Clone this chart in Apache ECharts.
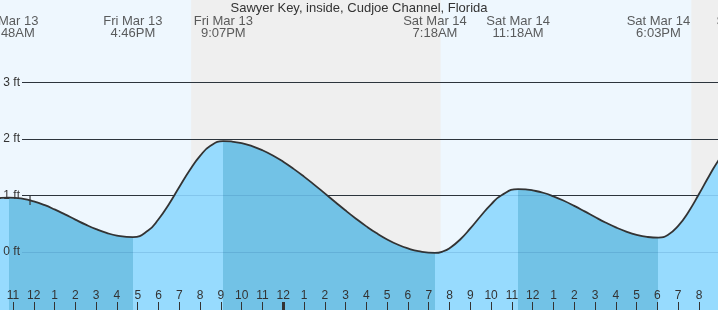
<!DOCTYPE html>
<html><head><meta charset="utf-8">
<script src="https://cdn.jsdelivr.net/npm/echarts@6/dist/echarts.min.js"></script>
<style>html,body{margin:0;padding:0;background:#eef7fe}#c{width:718px;height:310px}</style>
</head><body><div id="c"></div>
<script>
// ---------- DATA (hours counted from Fri Mar 13 00:00, heights in ft) ----------
const chartTitle = 'Sawyer Key, inside, Cudjoe Channel, Florida';
const tideHours = [10, 10.4, 10.8, 11.5, 12, 12.5, 13, 13.5, 14, 14.5, 15, 15.5, 16, 16.767,
  17.5, 18, 18.5, 19, 19.5, 20, 20.5, 21.117, 21.5, 22, 22.5, 23, 23.5, 24, 24.5, 25, 25.5, 26, 26.5,
  27, 27.5, 28, 28.5, 29, 29.5, 30, 30.5, 31.3, 31.75, 32, 32.5, 33, 33.5, 34, 34.5, 35.3, 35.75,
  36, 36.5, 37, 37.5, 38, 38.5, 39, 39.5, 40, 40.5, 41, 41.5, 42.05, 42.5, 43, 43.5, 44, 44.5, 45, 45.5, 46.37];
const tideFeet  = [0.93, 0.952, 0.96, 0.937, 0.892, 0.829, 0.75, 0.662, 0.57, 0.481, 0.401, 0.335, 0.288, 0.26,
  0.376, 0.575, 0.843, 1.146, 1.443, 1.698, 1.877, 1.96, 1.953, 1.924, 1.871, 1.798, 1.705, 1.594, 1.468, 1.331, 1.185, 1.034, 0.881,
  0.73, 0.586, 0.45, 0.327, 0.219, 0.129, 0.059, 0.01, -0.02, 0.015, 0.063, 0.213, 0.413, 0.633, 0.84, 1.002, 1.11, 1.101,
  1.087, 1.045, 0.982, 0.904, 0.813, 0.715, 0.615, 0.519, 0.431, 0.357, 0.3, 0.264, 0.25, 0.298, 0.459, 0.71, 1.022, 1.351, 1.654, 1.893, 2.07];
const eventHours = [10.8, 16.767, 21.117, 31.3, 35.3, 42.05, 46.37];
const eventFeet  = [0.96, 0.26, 1.96, -0.02, 1.11, 0.25, 2.07];
const eventDays  = ['Fri Mar 13', 'Fri Mar 13', 'Fri Mar 13', 'Sat Mar 14', 'Sat Mar 14', 'Sat Mar 14', 'Sat Mar 14'];
const eventTimes = ['10:48AM', '4:46PM', '9:07PM', '7:18AM', '11:18AM', '6:03PM', '10:22PM'];
const sunsetHours  = [19.57, 43.63];
const sunriseHours = [31.57, 55.55];
const midnightHours = [24];
const nowHour = [11.82];
const nowFeet = [0.91];
const feetAxisMin = -1, feetAxisMax = 4;

// ---------- STYLE / LAYOUT ----------
const W = 718, H = 310;
const FONT = '"Liberation Sans", Arial, sans-serif';
const DAY_BG = '#eef7fe', NIGHT_BG = '#efefef';
const RISE = '#97dbfe', FALL = '#72c2e6';
const INK = '#333333';
const PX_PER_HOUR = 20.788, HOUR_MIN = 10, HOUR_MAX = 45, HOUR_MIN_PX = -7.8;
const PX_PER_FT = 56.5, ZERO_FT_PX = 251.8;
const LABEL_ROW_FT = 3.98;

const gridLeft = HOUR_MIN_PX;
const gridRight = W - (HOUR_MIN_PX + (HOUR_MAX - HOUR_MIN) * PX_PER_HOUR);
const yMin0 = -(H - ZERO_FT_PX) / PX_PER_FT;
const yMax0 = ZERO_FT_PX / PX_PER_FT;
const g1Top = ZERO_FT_PX - feetAxisMax * PX_PER_FT;
const g1Bottom = H - (ZERO_FT_PX - feetAxisMin * PX_PER_FT);

const tide = tideHours.map((h, i) => [h, tideFeet[i]]);

// rising (light) / falling (dark) pieces from high/low events
const isHigh = eventFeet.map((v, i) => i > 0 ? v > eventFeet[i - 1] : v > eventFeet[i + 1]);
const pieces = [];
eventHours.forEach((h, i) => {
  const c = isHigh[i] ? RISE : FALL;
  if (i === 0) pieces.push({ lt: h, color: c });
  else pieces.push({ gte: eventHours[i - 1], lt: h, color: c });
});
pieces.push({ gte: eventHours[eventHours.length - 1], color: isHigh[isHigh.length - 1] ? FALL : RISE });

const nights = sunsetHours.map((s, i) => [{ xAxis: s }, { xAxis: sunriseHours[i] }]);

const hourLabel = v => { const h = ((Math.round(v) % 12) + 12) % 12; return h === 0 ? '12' : String(h); };

const chart = echarts.init(document.getElementById('c'), null, { renderer: 'canvas' });
chart.setOption({
  animation: false,
  backgroundColor: DAY_BG,
  textStyle: { fontFamily: FONT },
  title: {
    text: chartTitle, left: 'center', top: 0, padding: [2, 0, 0, 0],
    textStyle: { fontSize: 13, fontWeight: 'normal', color: INK, fontFamily: FONT }
  },
  grid: [
    { left: gridLeft, right: gridRight, top: 0, bottom: 0, containLabel: false, outerBoundsMode: 'none' },
    { left: 22, right: 0, top: g1Top, bottom: g1Bottom, containLabel: false, outerBoundsMode: 'none' }
  ],
  xAxis: [
    {
      type: 'value', gridIndex: 0, min: HOUR_MIN, max: HOUR_MAX, interval: 1, position: 'bottom', z: 10,
      axisLine: { show: false, onZero: false }, splitLine: { show: false },
      axisTick: { inside: true, length: 8, lineStyle: { color: INK, width: 1 } },
      axisLabel: { inside: true, margin: 8, interval: 0, showMaxLabel: false, color: INK, fontSize: 12, fontFamily: FONT, formatter: hourLabel }
    },
    {
      type: 'value', gridIndex: 0, min: HOUR_MIN, max: HOUR_MAX, position: 'bottom', z: 10,
      axisLine: { show: false, onZero: false }, splitLine: { show: false }, axisLabel: { show: false },
      axisTick: { show: true, inside: true, length: 8, customValues: midnightHours, lineStyle: { color: INK, width: 3 } }
    },
    { type: 'value', gridIndex: 1, min: 0, max: 1, show: false, axisLine: { onZero: false } }
  ],
  yAxis: [
    { type: 'value', gridIndex: 0, min: yMin0, max: yMax0, show: false, axisLine: { onZero: false } },
    {
      type: 'value', gridIndex: 1, min: feetAxisMin, max: feetAxisMax, interval: 1, position: 'left', z: 1,
      axisLine: { show: false, onZero: false }, axisTick: { show: false }, axisLabel: { show: false },
      splitLine: { show: true, showMinLine: false, showMaxLine: false, lineStyle: { color: INK, width: 1.2 } }
    },
    {
      type: 'value', gridIndex: 1, min: feetAxisMin, max: feetAxisMax, interval: 1, position: 'left', z: 10,
      axisLine: { show: false, onZero: false }, axisTick: { show: false },
      axisLabel: { show: true, showMinLabel: false, showMaxLabel: false, margin: 2, color: INK, fontSize: 12, fontFamily: FONT, formatter: '{value} ft' },
      splitLine: { show: true, showMinLine: false, showMaxLine: false, lineStyle: { color: 'rgba(0,60,120,0.13)', width: 1.2 } }
    }
  ],
  visualMap: { type: 'piecewise', show: false, dimension: 0, seriesIndex: 1, pieces: pieces },
  series: [
    {
      type: 'line', xAxisIndex: 0, yAxisIndex: 0, data: [], silent: true, z: 0,
      markArea: { silent: true, z: 0, itemStyle: { color: NIGHT_BG }, data: nights }
    },
    {
      type: 'line', xAxisIndex: 0, yAxisIndex: 0, data: tide, smooth: true, symbol: 'none', silent: true, z: 2,
      lineStyle: { width: 0 }, areaStyle: { opacity: 1, origin: 'start' }
    },
    {
      type: 'line', xAxisIndex: 0, yAxisIndex: 0, data: tide, smooth: true, symbol: 'none', silent: true, z: 3,
      lineStyle: { color: INK, width: 1.8 }
    },
    {
      type: 'scatter', xAxisIndex: 0, yAxisIndex: 0, z: 4, silent: true,
      data: nowHour.map((h, i) => [h, nowFeet[i]]),
      symbol: 'rect', symbolSize: [1.5, 9], itemStyle: { color: INK }
    },
    {
      type: 'scatter', xAxisIndex: 0, yAxisIndex: 0, z: 6, silent: true, clip: false,
      data: eventHours.map((h, i) => ({ value: [h, LABEL_ROW_FT], name: eventDays[i] + '\n' + eventTimes[i] })),
      symbolSize: 1, itemStyle: { color: 'rgba(0,0,0,0)' },
      label: { show: true, position: 'inside', formatter: p => p.name, color: INK, fontSize: 13, lineHeight: 12, fontFamily: FONT, align: 'center' }
    }
  ]
});
</script>
</body></html>
